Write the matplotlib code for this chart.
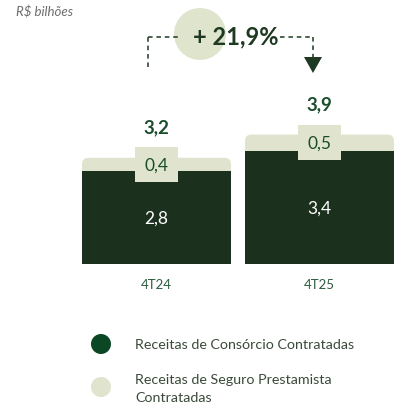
import matplotlib.pyplot as plt
from matplotlib.patches import FancyBboxPatch, Circle, Polygon

plt.rcParams["font.family"] = ["Lato", "DejaVu Sans"]

# ── Data ──────────────────────────────────────
categories = ["4T24", "4T25"]
consorcio = [2.8, 3.4]
seguro = [0.4, 0.5]
totals = [3.2, 3.9]
total_labels = ["3,2", "3,9"]
consorcio_labels = ["2,8", "3,4"]
seguro_labels = ["0,4", "0,5"]
growth_label = "+ 21,9%"
legend_labels = ["Receitas de Consórcio Contratadas",
                 "Receitas de Seguro Prestamista\nContratadas"]

DARK = "#1c311d"
LIGHT = "#e0e4cf"
GREEN_TXT = "#1b4d2c"
LEG_DARK = "#0b4724"

W, H = 402, 410
fig = plt.figure(figsize=(W / 100, H / 100), dpi=100)

# bar axes: full figure, scaled so category spacing = 163 px, ~33 px per unit
PX_X = 163.0
PX_Y = 33.2
x0_px, y0_px = 156.5, 265.0
ax = fig.add_axes([0, 0, 1, 1])
ax.set_xlim(-x0_px / PX_X, (W - x0_px) / PX_X)
ax.set_ylim(-(H - y0_px) / PX_Y, y0_px / PX_Y)
ax.axis("off")

width = 149 / PX_X
xs = list(range(len(categories)))
aspect = PX_X / PX_Y
for i, x in enumerate(xs):
    top = consorcio[i] + seguro[i]
    patch = FancyBboxPatch((x - width / 2, 0), width, top,
                           boxstyle="round,pad=0,rounding_size=0.04",
                           mutation_aspect=aspect,
                           facecolor=LIGHT, edgecolor="none", zorder=1)
    ax.add_patch(patch)
ax.bar(xs, consorcio, width=width, color=DARK, zorder=2)

for i, x in enumerate(xs):
    ax.text(x, consorcio[i] / 2, consorcio_labels[i], ha="center", va="center",
            color="white", fontsize=12.5, zorder=3)
    ax.text(x, consorcio[i] + seguro[i] / 2, seguro_labels[i], ha="center",
            va="center", color=GREEN_TXT, fontsize=12.5, zorder=3,
            bbox=dict(boxstyle="square,pad=0.55", facecolor=LIGHT,
                      edgecolor="none"))
    ax.annotate(total_labels[i], (x, consorcio[i] + seguro[i]),
                xytext=(0, 22), textcoords="offset points", ha="center",
                va="center", color=GREEN_TXT, fontsize=13.5,
                fontweight="bold", zorder=3)
    ax.text(x, -20 / PX_Y, categories[i], ha="center", va="center",
            color="#2c5b3f", fontsize=9.5)

# overlay in pixel coordinates for the annotation and legend
ov = fig.add_axes([0, 0, 1, 1])
ov.set_xlim(0, W)
ov.set_ylim(H, 0)
ov.axis("off")

ov.text(16, 12, "R$ bilhões", ha="left", va="center", style="italic",
        color="#6d6d6d", fontsize=9.5)

dash = dict(color="#1e3a22", lw=1.1, ls=(0, (3, 2.5)))
ov.plot([148, 148], [68, 38], **dash)
ov.plot([148, 178], [38, 38], **dash)
ov.plot([280, 313], [38, 38], **dash)
ov.plot([313, 313], [38, 58], **dash)
ov.add_patch(Polygon([[304, 58], [322, 58], [313, 74]], closed=True,
                     facecolor="#1e3a22", edgecolor="none"))
ov.add_patch(Circle((200, 35), 26, facecolor="#dfe4cd", edgecolor="none"))
ov.text(236, 37, growth_label, ha="center", va="center", color="#1e3a22",
        fontsize=17, fontweight="bold")

# legend
ov.add_patch(Circle((101, 345), 10, facecolor=LEG_DARK, edgecolor="none"))
ov.add_patch(Circle((101, 388), 10, facecolor=LIGHT, edgecolor="none"))
ov.text(135, 345, legend_labels[0], ha="left", va="center", color="#3a4a3a",
        fontsize=10.3)
ov.text(135, 389, legend_labels[1], ha="left", va="center", color="#3a4a3a",
        fontsize=10.3, linespacing=1.55)

fig.savefig("out.png", dpi=100)
